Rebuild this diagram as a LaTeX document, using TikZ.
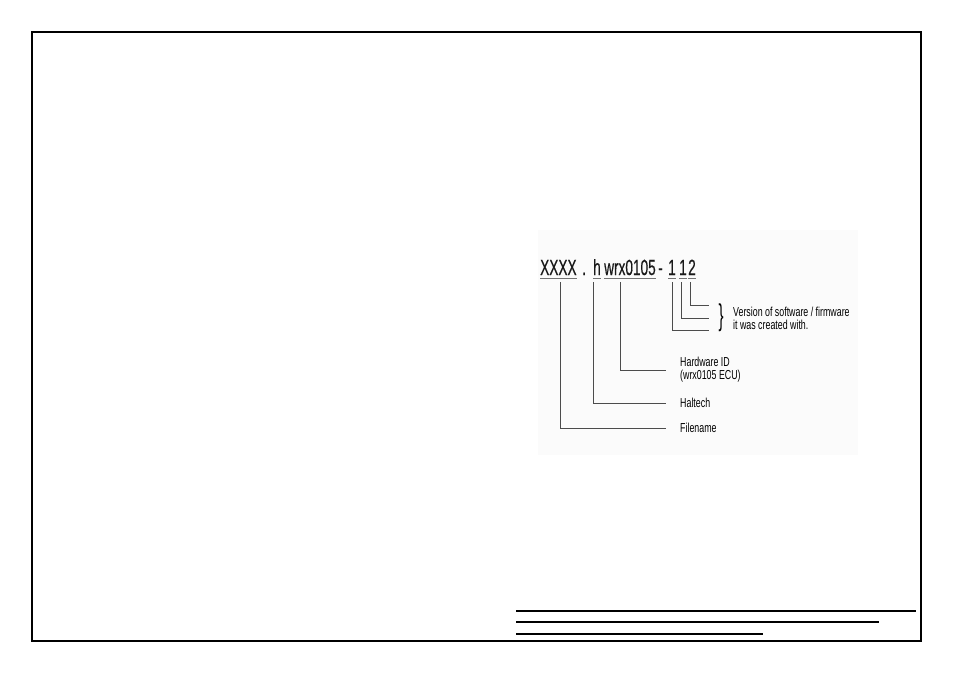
\documentclass[tikz,border=0pt]{standalone}
\usepackage{fontspec}
\setmainfont{Liberation Sans}
\newfontfamily\codefont{Liberation Sans}[FakeStretch=0.62,FakeBold=0.4]
\newfontfamily\notefont{Liberation Sans}[FakeStretch=0.68]
\newfontfamily\bracefont{Liberation Sans}[FakeStretch=0.5]
\usetikzlibrary{calc}
\tikzset{
  part/.style={anchor=base west, inner sep=0pt, text=black!90,
    font=\codefont\fontsize{22}{22}\selectfont},
  note/.style={anchor=west, inner sep=0pt, text=black, align=left,
    font=\notefont\fontsize{13}{13}\selectfont},
  uline/.style={draw=black!55, line width=0.9pt},
  lead/.style={draw=black!70, line width=0.8pt},
  rule/.style={line width=1.5pt}
}
\begin{document}
\begin{tikzpicture}[x=1pt,y=-1pt]
  \useasboundingbox (0,0) rectangle (954,674);
  % sheet frame and title lines
  \draw[rule] (32,32) rectangle (921,641);
  \draw[rule] (516,611) -- (916,611);
  \draw[rule] (516,622) -- (879,622);
  \draw[rule] (516,634) -- (763,634);
  % faint backdrop of the figure
  \fill[black!1.5] (538,230) rectangle (858,455);
  % file name parts
  \node[part] (xxxx) at (540,275) {XXXX};
  \node[part] (dot)  at (582,275) {.};
  \node[part] (h)    at (593,275) {h};
  \node[part] (wrx)  at (604,275) {wrx0105};
  \node[part] (dash) at (658,275) {-};
  \node[part] (v1)   at (668,275) {1};
  \node[part] (v2)   at (679,275) {1};
  \node[part] (v3)   at (688,275) {2};
  \foreach \n in {xxxx,h,wrx,v1,v2,v3}
    \draw[uline] ([yshift=-3pt]\n.base west) -- ([yshift=-3pt]\n.base east);
  % labels
  \node[note] (lblver)  at (733,318) {Version of software / firmware\\it was created with.};
  \node[inner sep=0pt, text=black, font=\bracefont\fontsize{30}{30}\selectfont]
    (brace) at (721,318) {\}};
  \node[note] (lblhw)   at (680,370) {Hardware ID\\(wrx0105 ECU)};
  \node[note] (lblhal)  at (680,403) {Haltech};
  \node[note] (lblfile) at (680,428) {Filename};
  % leader tops and ends
  \coordinate (cxxxx) at (560,282);
  \coordinate (ch)    at (593,282);
  \coordinate (cwrx)  at (620,282);
  \coordinate (cv1)   at (672,282);
  \coordinate (cv2)   at (681,282);
  \coordinate (cv3)   at (690,282);
  \coordinate (ev1)   at (709,330);
  \coordinate (ev2)   at (709,318);
  \coordinate (ev3)   at (709,305);
  % leaders
  \draw[lead] (cv1) |- (ev1);
  \draw[lead] (cv2) |- (ev2);
  \draw[lead] (cv3) |- (ev3);
  \draw[lead] (cwrx) |- ([xshift=-14pt]lblhw.west);
  \draw[lead] (ch) |- ([xshift=-14pt]lblhal.west);
  \draw[lead] (cxxxx) |- ([xshift=-14pt]lblfile.west);
\end{tikzpicture}
\end{document}
